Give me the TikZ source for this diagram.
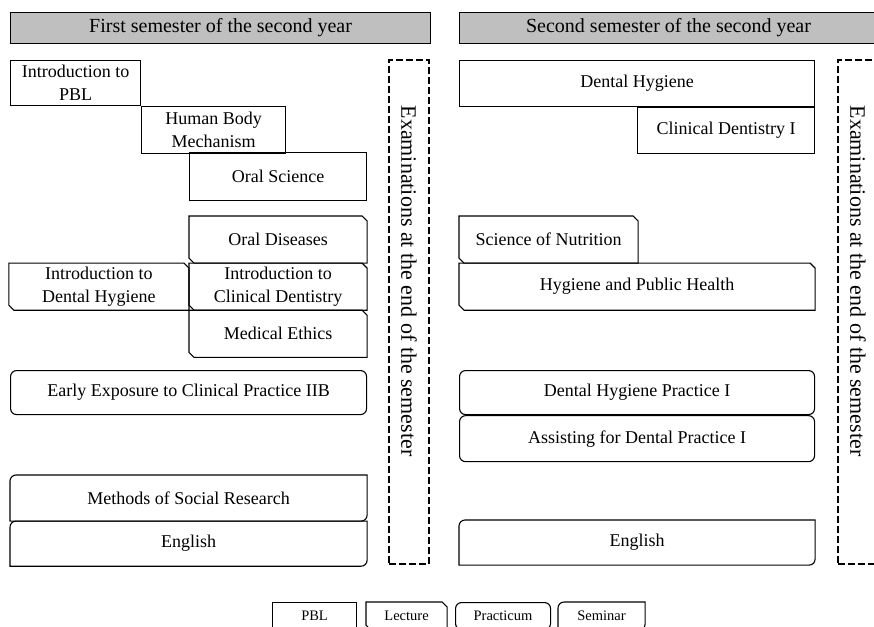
\documentclass[tikz,border=0pt]{standalone}
\usepackage{fontspec}
\setmainfont{Liberation Serif}
\usetikzlibrary{positioning}

\tikzset{
  box/.style={draw, line width=1.1pt, inner sep=2pt, align=center, anchor=north west,
    font=\fontsize{18}{23}\selectfont},
  pbl/.style={box, rectangle},
  lecture/.style={box, rectangle, draw=none},
  practicum/.style={box, rectangle, rounded corners=6pt},
  seminar/.style={box, rectangle, draw=none},
  frameline/.style={line width=1.1pt},
  termhead/.style={box, fill=black!25, font=\fontsize{20}{24}\selectfont},
  exambox/.style={draw, line width=1.8pt, dash pattern=on 7pt off 3pt,
    minimum width=40pt, minimum height=504pt, inner sep=0pt},
  examtext/.style={rotate=-90, font=\fontsize{22}{26}\selectfont},
  key/.style={font=\fontsize{14.5}{17}\selectfont, minimum height=27pt}
}

% frame of a lecture box: cut top right and bottom left
\newcommand{\lecframe}[1]{%
  \draw[frameline] (#1.north west) -- ([xshift=-5pt]#1.north east) -- ([yshift=-5pt]#1.north east)
    -- (#1.south east) -- ([xshift=5pt]#1.south west) -- ([yshift=5pt]#1.south west) -- cycle;}
% frame of a seminar box: rounded top left and bottom right
\newcommand{\semframe}[1]{%
  \draw[frameline] ([yshift=-6pt]#1.north west) arc[start angle=180, end angle=90, radius=6pt]
    -- (#1.north east) -- ([yshift=6pt]#1.south east)
    arc[start angle=0, end angle=-90, radius=6pt] -- (#1.south west) -- cycle;}

\begin{document}
\begin{tikzpicture}[x=1pt, y=1pt]
  \useasboundingbox (0,0) rectangle (874,-626);

  % headers
  \node[termhead, minimum width=420pt, minimum height=31pt] (head1) at (10,-12) {First semester of the second year};
  \node[termhead, minimum width=418pt, minimum height=31pt] (head2) at (459,-12) {Second semester of the second year};

  % first semester
  \node[pbl, minimum width=130pt, minimum height=45pt] (intro) at (10,-60) {Introduction to\\PBL};
  \node[pbl, minimum width=144pt, minimum height=47pt] (body) at (intro.south east) {Human Body\\Mechanism};
  \node[pbl, minimum width=177pt, minimum height=48pt] (oral) at (189,-152) {Oral Science};

  \node[lecture, minimum width=177pt, minimum height=46pt] (disease) at (189,-216) {Oral Diseases};
  \lecframe{disease}
  \node[lecture, minimum width=177pt, minimum height=46pt] (clinic) at (disease.south west) {Introduction to\\Clinical Dentistry};
  \lecframe{clinic}
  \node[lecture, minimum width=179pt, minimum height=46pt, anchor=north east] (hygintro) at (clinic.north west) {Introduction to\\Dental Hygiene};
  \lecframe{hygintro}
  \node[lecture, minimum width=177pt, minimum height=46pt] (ethics) at (clinic.south west) {Medical Ethics};
  \lecframe{ethics}

  \node[practicum, minimum width=356pt, minimum height=44pt] (early) at (10,-370) {Early Exposure to Clinical Practice IIB};

  \node[seminar, minimum width=356pt, minimum height=45pt] (method) at (10,-475) {Methods of Social Research};
  \semframe{method}
  \node[seminar, minimum width=356pt, minimum height=44pt] (eng1) at (method.south west) {English};
  \semframe{eng1}

  \node[exambox] (exam1) at (409,-312) {};
  \node[examtext] (examtxt1) at (409,-281) {Examinations at the end of the semester};

  % second semester
  \node[pbl, minimum width=355pt, minimum height=46pt] (dhyg) at (459,-60) {Dental Hygiene};
  \node[pbl, minimum width=177pt, minimum height=46pt, anchor=north east] (cdent) at (dhyg.south east) {Clinical Dentistry I};

  \node[lecture, minimum width=178pt, minimum height=46pt] (nutri) at (459,-216) {Science of Nutrition};
  \lecframe{nutri}
  \node[lecture, minimum width=355pt, minimum height=46pt] (health) at (nutri.south west) {Hygiene and Public Health};
  \lecframe{health}

  \node[practicum, minimum width=355pt, minimum height=44pt] (dhprac) at (459,-370) {Dental Hygiene Practice I};
  \node[practicum, minimum width=355pt, minimum height=46pt] (assist) at (dhprac.south west) {Assisting for Dental Practice I};

  \node[seminar, minimum width=355pt, minimum height=44pt] (eng2) at (459,-520) {English};
  \semframe{eng2}

  \node[exambox] (exam2) at (858,-312) {};
  \node[examtext] (examtxt2) at (858,-281) {Examinations at the end of the semester};

  % legend
  \node[pbl, key, minimum width=84pt] (keypbl) at (272,-602) {PBL};
  \node[lecture, key, minimum width=80pt] (keylec) at (366,-602) {Lecture};
  \lecframe{keylec}
  \node[practicum, key, minimum width=95pt] (keyprac) at (455,-602) {Practicum};
  \node[seminar, key, minimum width=86pt] (keysem) at (558,-602) {Seminar};
  \semframe{keysem}
\end{tikzpicture}
\end{document}
